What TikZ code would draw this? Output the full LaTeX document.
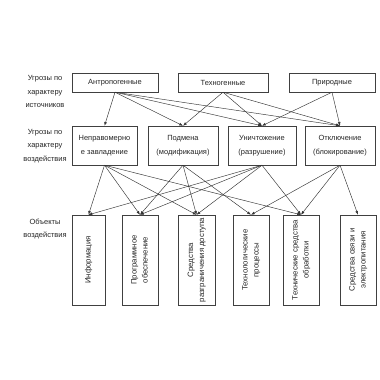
\documentclass[tikz,border=0pt]{standalone}
\usepackage{fontspec}
\setmainfont{Liberation Sans}
\usepackage{graphicx}
\usetikzlibrary{arrows.meta, positioning}

\newcommand{\vlabel}[1]{\rotatebox{90}{\begin{tabular}{@{}c@{}}#1\end{tabular}}}

\begin{document}
\begin{tikzpicture}[x=1bp, y=1bp,
  every node/.style={font=\fontsize{7.5}{13.5}\selectfont, text=black!85},
  srcbox/.style={draw=black!75, minimum height=19bp, inner sep=0pt},
  impbox/.style={draw=black!75, minimum height=39bp, inner sep=0pt, align=center, font=\fontsize{7.5}{14}\selectfont},
  objbox/.style={draw=black!75, minimum height=90bp, inner sep=0pt, font=\fontsize{7.8}{11}\selectfont},
  arr/.style={-{Latex[length=3.8pt, width=2.8pt]}, black!80, line width=0.45pt}]
  \fill[white] (0,0) rectangle (380,380);
  \useasboundingbox (0,0) rectangle (380,380);

  % row titles
  \node[align=center] (t1) at (45,288.5) {Угрозы по\\характеру\\источников};
  \node[align=center] (t2) at (45,234) {Угрозы по\\характеру\\воздействия};
  \node[align=center] (t3) at (45,151) {Объекты\\воздействия};

  % sources
  \node[srcbox, minimum width=86bp] (src1) at (115,297.5) {Антропогенные};
  \node[srcbox, minimum width=90bp] (src2) at (223,297.5) {Техногенные};
  \node[srcbox, minimum width=86bp] (src3) at (332,297.5) {Природные};

  % impacts
  \node[impbox, minimum width=65bp] (imp1) at (104.5,234.5) {Неправомерно\\е завладение};
  \node[impbox, minimum width=70bp] (imp2) at (183,234.5) {Подмена\\(модификация)};
  \node[impbox, minimum width=68bp] (imp3) at (262,234.5) {Уничтожение\\(разрушение)};
  \node[impbox, minimum width=70bp] (imp4) at (340,234.5) {Отключение\\(блокирование)};

  % objects
  \node[objbox, minimum width=33bp] (obj1) at (88.5,120) {\vlabel{Информация}};
  \node[objbox, minimum width=36bp] (obj2) at (140,120) {\vlabel{Программное\\обеспечение}};
  \node[objbox, minimum width=37bp] (obj3) at (196.5,120) {\vlabel{Средства\\разграничения доступа}};
  \node[objbox, minimum width=36bp] (obj4) at (251,120) {\vlabel{Технологические\\процессы}};
  \node[objbox, minimum width=36bp] (obj5) at (301,120) {\vlabel{Технические средства\\обработки}};
  \node[objbox, minimum width=36bp] (obj6) at (358,120) {\vlabel{Средства связи и\\электропитания}};

  \foreach \s/\t in {src1/imp1, src1/imp2, src1/imp3, src1/imp4,
                     src2/imp2, src2/imp3, src2/imp4, src3/imp3, src3/imp4}
    \draw[arr] (\s.south) -- (\t.north);

  \foreach \s/\t in {imp1/obj1, imp1/obj2, imp1/obj3, imp1/obj5,
                     imp2/obj2, imp2/obj3, imp2/obj4,
                     imp3/obj1, imp3/obj2, imp3/obj3, imp3/obj5,
                     imp4/obj4, imp4/obj5, imp4/obj6}
    \draw[arr] (\s.south) -- (\t.north);
\end{tikzpicture}
\end{document}
